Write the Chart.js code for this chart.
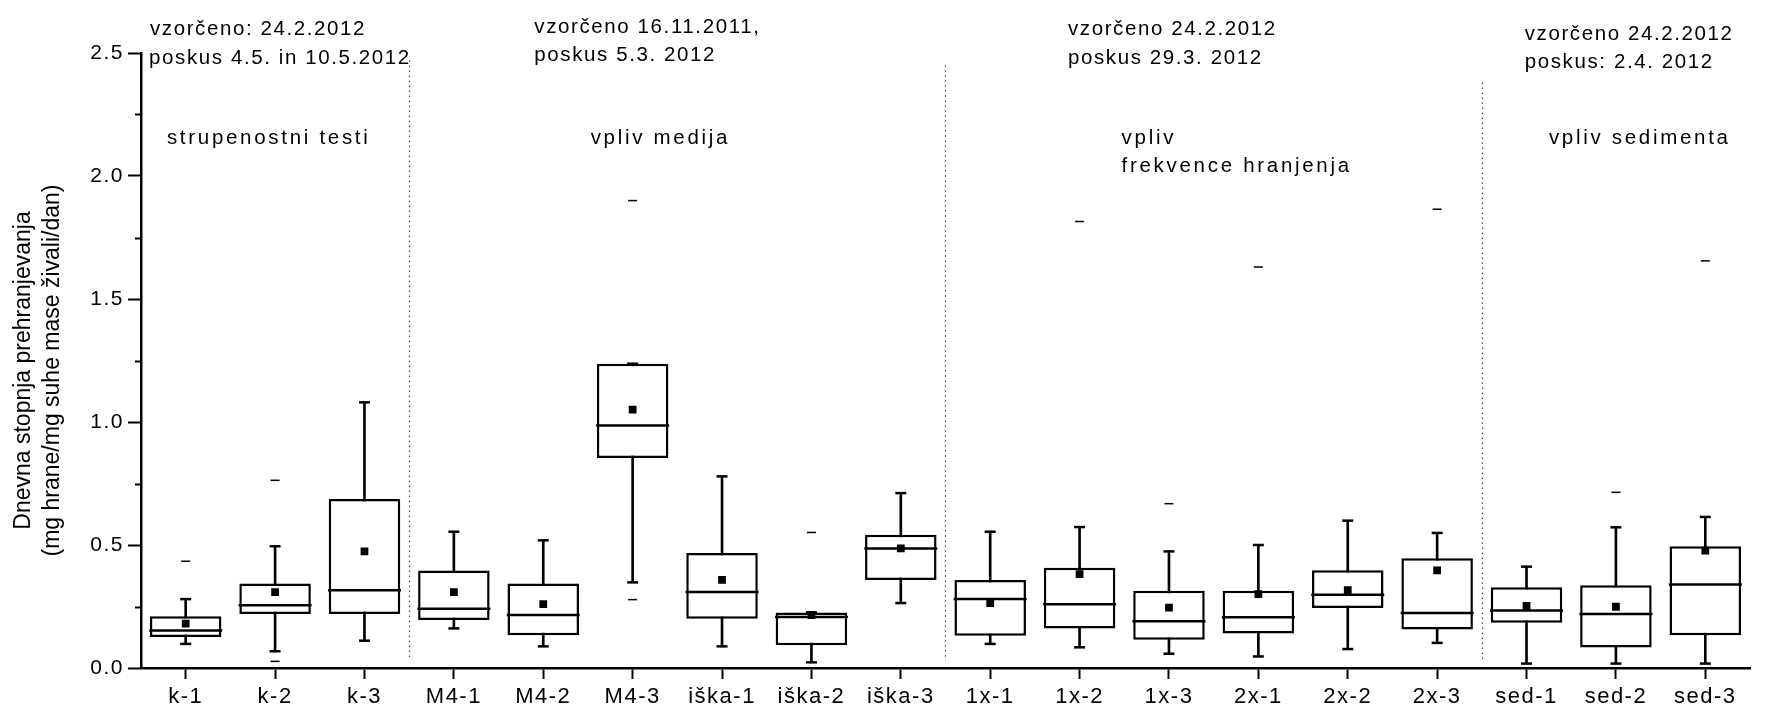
<!DOCTYPE html>
<html>
<head>
<meta charset="utf-8">
<script src="https://cdn.jsdelivr.net/npm/chart.js@4.4.1/dist/chart.umd.min.js"></script>
<style>
  html, body { margin: 0; padding: 0; background: #fff; }
  #wrap { width: 1789px; height: 710px; }
</style>
</head>
<body>
<div id="wrap"><canvas id="boxChart"></canvas></div>
<script>
// data
const categories = ['k-1', 'k-2', 'k-3', 'M4-1', 'M4-2', 'M4-3', 'iška-1', 'iška-2', 'iška-3',
  '1x-1', '1x-2', '1x-3', '2x-1', '2x-2', '2x-3', 'sed-1', 'sed-2', 'sed-3'];
const whiskerLow  = [0.098, 0.068, 0.111, 0.161, 0.088, 0.348, 0.088, 0.023, 0.264, 0.098, 0.084, 0.058, 0.047, 0.077, 0.102, 0.018, 0.018, 0.018];
const q1          = [0.126, 0.220, 0.220, 0.195, 0.133, 0.854, 0.200, 0.092, 0.358, 0.131, 0.161, 0.115, 0.140, 0.244, 0.156, 0.184, 0.083, 0.133];
const median      = [0.152, 0.255, 0.316, 0.241, 0.215, 0.986, 0.309, 0.207, 0.486, 0.280, 0.259, 0.190, 0.206, 0.298, 0.224, 0.234, 0.220, 0.339];
const q3          = [0.210, 0.343, 0.687, 0.396, 0.343, 1.237, 0.467, 0.226, 0.542, 0.358, 0.408, 0.314, 0.314, 0.397, 0.446, 0.328, 0.336, 0.495];
const whiskerHigh = [0.280, 0.495, 1.080, 0.554, 0.519, 1.237, 0.779, 0.226, 0.711, 0.554, 0.573, 0.474, 0.500, 0.599, 0.549, 0.412, 0.572, 0.614];
const mean        = [0.180, 0.308, 0.474, 0.308, 0.260, 1.050, 0.358, 0.215, 0.486, 0.264, 0.382, 0.245, 0.300, 0.317, 0.397, 0.252, 0.249, 0.477];
const outlierHigh = [0.434, 0.763, null, null, null, 1.900, null, 0.551, null, null, 1.815, 0.668, 1.630, null, 1.865, null, 0.714, 1.655];
const outlierLow  = [null, 0.027, null, null, null, 0.278, null, null, null, null, null, null, null, null, null, null, null, null];
const yTicks = [0, 0.5, 1.0, 1.5, 2.0, 2.5];
const yMinorTicks = [0.25, 0.75, 1.25, 1.75, 2.25];
const yTitle = ['Dnevna stopnja prehranjevanja', '(mg hrane/mg suhe mase živali/dan)'];
const separators = [2.5, 8.5, 14.5];
const separatorTops = [2.47, 2.45, 2.38];

// group notes: position in category / value units, spacing in px
const notes = [
  { text: 'vzorčeno: 24.2.2012', cat: -0.40, val: 2.595, spacing: 1.6 },
  { text: 'poskus 4.5. in 10.5.2012', cat: -0.41, val: 2.48, spacing: 1.6 },
  { text: 'strupenostni testi', cat: -0.21, val: 2.155, spacing: 2.7 },
  { text: 'vzorčeno 16.11.2011,', cat: 3.90, val: 2.605, spacing: 1.6 },
  { text: 'poskus 5.3. 2012', cat: 3.90, val: 2.49, spacing: 1.6 },
  { text: 'vpliv medija', cat: 4.53, val: 2.155, spacing: 2.7 },
  { text: 'vzorčeno 24.2.2012', cat: 9.87, val: 2.595, spacing: 1.6 },
  { text: 'poskus 29.3. 2012', cat: 9.87, val: 2.48, spacing: 1.6 },
  { text: 'vpliv', cat: 10.47, val: 2.155, spacing: 2.7 },
  { text: 'frekvence hranjenja', cat: 10.47, val: 2.04, spacing: 2.7 },
  { text: 'vzorčeno 24.2.2012', cat: 14.98, val: 2.575, spacing: 1.6 },
  { text: 'poskus: 2.4. 2012', cat: 14.98, val: 2.46, spacing: 1.6 },
  { text: 'vpliv sedimenta', cat: 15.25, val: 2.155, spacing: 2.7 }
];

const FONT = "'Liberation Sans', Arial, sans-serif";
const boxes = categories.map((c, i) => [q1[i], q3[i]]);
const whiskers = categories.map((c, i) => [whiskerLow[i], whiskerHigh[i]]);

function catPx(xs, c) {
  const x0 = xs.getPixelForValue(0);
  const step = xs.getPixelForValue(1) - x0;
  return x0 + c * step;
}

const extras = {
  id: 'extras',
  beforeDraw(chart) {
    // spaced-out tick labels like the original export
    chart.ctx.letterSpacing = '1.5px';
  },
  afterDraw(chart) {
    const ctx = chart.ctx;
    const xs = chart.scales.x, ys = chart.scales.y;
    const area = chart.chartArea;
    ctx.save();
    // minor ticks on y axis
    ctx.strokeStyle = '#000';
    ctx.lineWidth = 2;
    yMinorTicks.forEach(v => {
      const py = Math.round(ys.getPixelForValue(v)) + 0.5;
      ctx.beginPath();
      ctx.moveTo(area.left - 6, py);
      ctx.lineTo(area.left, py);
      ctx.stroke();
    });
    // dotted separators between experiment groups
    ctx.strokeStyle = '#444';
    ctx.lineWidth = 1.2;
    ctx.setLineDash([1.5, 3.5]);
    separators.forEach((c, i) => {
      const px = Math.round(catPx(xs, c)) + 0.5;
      ctx.beginPath();
      ctx.moveTo(px, ys.getPixelForValue(separatorTops[i]));
      ctx.lineTo(px, ys.getPixelForValue(0.03));
      ctx.stroke();
    });
    ctx.setLineDash([]);
    // group notes
    ctx.fillStyle = '#000';
    ctx.font = '20.5px ' + FONT;
    ctx.textAlign = 'left';
    ctx.textBaseline = 'middle';
    notes.forEach(n => {
      ctx.letterSpacing = n.spacing + 'px';
      ctx.fillText(n.text, catPx(xs, n.cat), ys.getPixelForValue(n.val));
    });
    // y axis title, two rotated lines
    ctx.letterSpacing = '0px';
    ctx.font = '23px ' + FONT;
    ctx.textAlign = 'center';
    const midY = (ys.getPixelForValue(0) + ys.getPixelForValue(2.5)) / 2 + 10;
    yTitle.forEach((t, i) => {
      ctx.save();
      ctx.translate(24 + i * 28.5, midY);
      ctx.rotate(-Math.PI / 2);
      ctx.fillText(t, 0, 0);
      ctx.restore();
    });
    ctx.restore();
  }
};

const pointSet = (data, style, radius, width, order) => ({
  type: 'line',
  data: data,
  showLine: false,
  pointStyle: style,
  pointRadius: radius,
  pointHoverRadius: radius,
  pointBorderWidth: width,
  pointBorderColor: '#000',
  pointBackgroundColor: '#000',
  borderColor: '#000',
  order: order
});

new Chart(document.getElementById('boxChart'), {
  type: 'bar',
  data: {
    labels: categories,
    datasets: [
      { type: 'bar', data: whiskers, backgroundColor: '#000', barThickness: 2, grouped: false, order: 6 },
      { type: 'bar', data: boxes, backgroundColor: '#fff', borderColor: '#000', borderWidth: 2.5,
        borderSkipped: false, barPercentage: 0.8, categoryPercentage: 1, grouped: false, order: 5 },
      pointSet(median, 'line', 36.5, 2.5, 4),
      pointSet(whiskerLow, 'line', 5.5, 2.5, 4),
      pointSet(whiskerHigh, 'line', 5.5, 2.5, 4),
      pointSet(mean, 'rect', 5.5, 0, 3),
      pointSet(outlierHigh, 'line', 4.5, 1.5, 2),
      pointSet(outlierLow, 'line', 4.5, 1.5, 2)
    ]
  },
  options: {
    responsive: true,
    maintainAspectRatio: false,
    animation: false,
    events: [],
    layout: { padding: { top: 53, right: 2, left: 0, bottom: 0 } },
    plugins: { legend: { display: false }, tooltip: { enabled: false } },
    scales: {
      x: {
        type: 'category',
        offset: true,
        afterFit: s => { s.height = 42; },
        grid: { offset: false, drawOnChartArea: false, drawTicks: true, tickLength: 11, tickWidth: 2, tickColor: '#000' },
        border: { display: true, color: '#000', width: 2.5 },
        ticks: { color: '#000', font: { family: FONT, size: 22 }, padding: 5, maxRotation: 0, autoSkip: false }
      },
      y: {
        min: 0,
        max: 2.5,
        afterFit: s => { s.width = 141; },
        afterBuildTicks: s => { s.ticks = yTicks.map(v => ({ value: v })); },
        grid: { drawOnChartArea: false, drawTicks: true, tickLength: 13, tickWidth: 2, tickColor: '#000' },
        border: { display: true, color: '#000', width: 2.5 },
        ticks: { color: '#000', font: { family: FONT, size: 21 }, padding: 4, callback: v => v.toFixed(1) }
      }
    }
  },
  plugins: [extras]
});
</script>
</body>
</html>
